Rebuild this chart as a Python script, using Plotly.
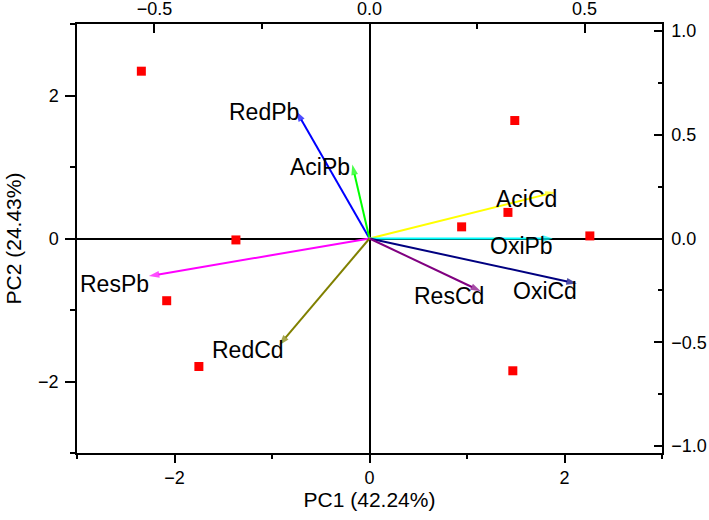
import plotly.graph_objects as go

# PCA scores (bottom / left axes)
score_pc1 = [-2.34, -1.37, -2.08, -1.75, 1.49, 1.42, 0.945, 2.26, 1.47]
score_pc2 = [2.34, -0.02, -0.87, -1.79, 1.65, 0.365, 0.163, 0.036, -1.85]

# Loadings (top / right axes)
var_names = ["RedPb", "AciPb", "AciCd", "OxiPb", "OxiCd", "ResCd", "ResPb", "RedCd"]
load_pc1 = [-0.170, -0.040, 0.433, 0.426, 0.482, 0.259, -0.513, -0.210]
load_pc2 = [0.613, 0.356, 0.224, 0.0, -0.217, -0.254, -0.181, -0.514]

# styling
arrow_colors = ["#0000FF", "#00FF00", "#FFFF00", "#00FFFF", "#000080", "#800080", "#FF00FF", "#808000"]
label_shift = [(5, -1), (0, -2), (3, -7), (2, -7), (2, -7), (5, -5), (2, -8), (7, -5)]

FONT = "Liberation Sans, Arial, sans-serif"

fig = go.Figure()

fig.add_trace(go.Scatter(
    x=score_pc1, y=score_pc2, mode="markers",
    marker=dict(symbol="square", size=9, color="#FF0000", line=dict(width=0)),
    xaxis="x", yaxis="y", showlegend=False, hoverinfo="skip",
))

for i, name in enumerate(var_names):
    fig.add_trace(go.Scatter(
        x=[0, load_pc1[i]], y=[0, load_pc2[i]], mode="lines+markers",
        line=dict(color=arrow_colors[i], width=2),
        marker=dict(symbol=["circle", "arrow"], size=[0, 11], angleref="previous",
                    color=arrow_colors[i], line=dict(width=0)),
        xaxis="x2", yaxis="y2", showlegend=False, hoverinfo="skip",
    ))
    fig.add_annotation(
        x=load_pc1[i], y=load_pc2[i], xref="x2", yref="y2",
        text=name, showarrow=False, xanchor="right", yanchor="middle",
        xshift=label_shift[i][0], yshift=label_shift[i][1],
        font=dict(family=FONT, size=23, color="black"),
    )

axis_common = dict(showgrid=False, showline=True, linecolor="black", linewidth=1.5,
                   tickcolor="black", tickwidth=1.5, automargin=False,
                   tickfont=dict(family=FONT, size=18, color="black"))

fig.update_layout(
    width=709, height=520,
    margin=dict(l=77, r=47, t=24, b=67),
    paper_bgcolor="white", plot_bgcolor="white",
    xaxis=dict(**axis_common, range=[-3, 3], dtick=2, tick0=0, ticks="outside", ticklen=8,
               minor=dict(ticks="outside", ticklen=4, dtick=1, tick0=1, tickcolor="black", tickwidth=1.5),
               zeroline=True, zerolinecolor="black", zerolinewidth=1.5,
               title=dict(text="PC1 (42.24%)", font=dict(family=FONT, size=21, color="black"), standoff=5)),
    yaxis=dict(**axis_common, range=[-3, 3], dtick=2, tick0=0, ticks="outside", ticklen=10,
               ticklabelstandoff=3,
               minor=dict(ticks="outside", ticklen=5, dtick=1, tick0=1, tickcolor="black", tickwidth=1.5),
               zeroline=True, zerolinecolor="black", zerolinewidth=1.5,
               title=dict(text="PC2 (24.43%)", font=dict(family=FONT, size=21, color="black"), standoff=11)),
    xaxis2=dict(**axis_common, range=[-0.68, 0.68], dtick=0.5, tick0=0, tickformat=".1f",
                overlaying="x", side="top", anchor="y", ticks="inside", ticklen=9,
                minor=dict(ticks="inside", ticklen=5, dtick=0.25, tick0=0.25, tickcolor="black", tickwidth=1.5),
                zeroline=False),
    yaxis2=dict(**axis_common, range=[-1.033, 1.033], dtick=0.5, tick0=0, tickformat=".1f",
                overlaying="y", side="right", anchor="x", ticks="inside", ticklen=8,
                ticklabelstandoff=4,
                minor=dict(ticks="inside", ticklen=4, dtick=0.25, tick0=0.25, tickcolor="black", tickwidth=1.5),
                zeroline=False),
)

# remove the page's default body margin so the figure fills the 709x520 window exactly
fig.write_html("out.html", config={"displayModeBar": False},
               post_script="document.body.style.margin='0';")
